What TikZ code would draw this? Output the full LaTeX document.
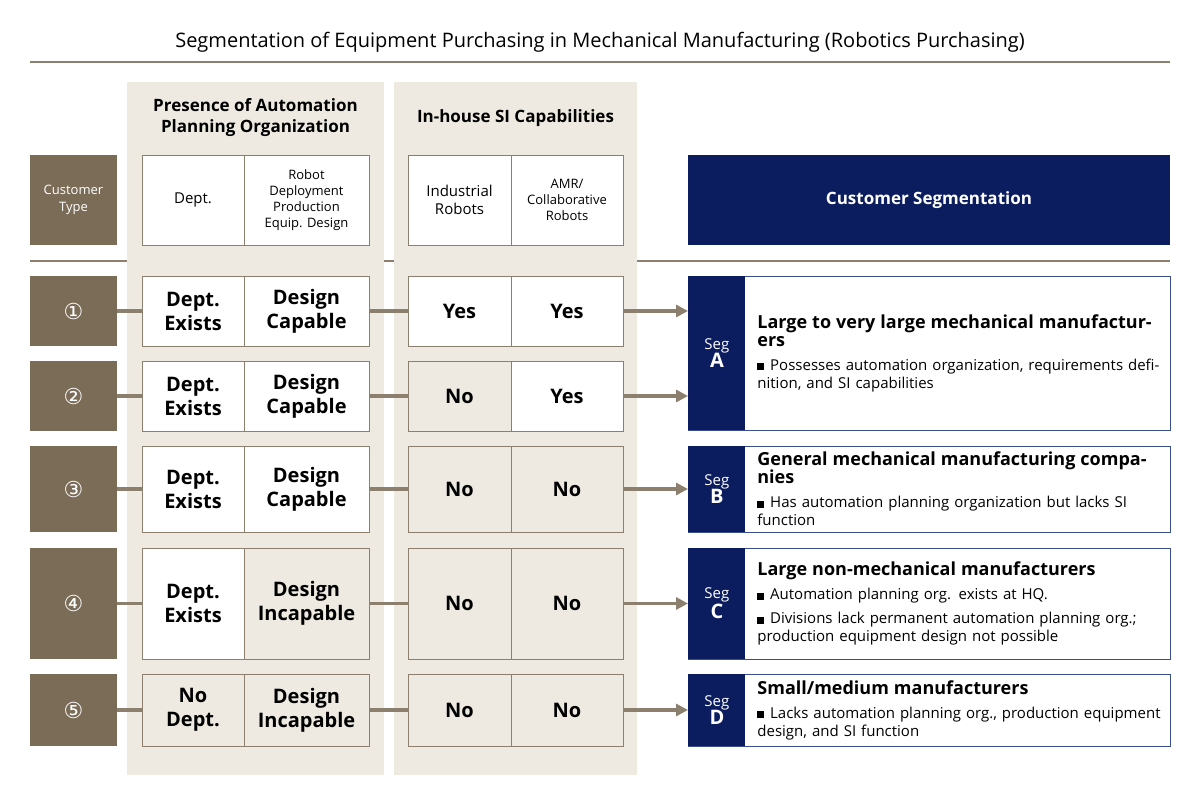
\documentclass[tikz,border=0pt]{standalone}
\usepackage{fontspec}
\setmainfont{Open Sans}
\newfontfamily\symfont{DejaVu Sans}
\usetikzlibrary{arrows.meta, positioning}
\definecolor{brownbox}{HTML}{7B6C58}
\definecolor{beige}{HTML}{EEEAE2}
\definecolor{navy}{HTML}{0B1D5E}
\definecolor{navyline}{HTML}{3A4E8E}
\definecolor{cellline}{HTML}{8C7F6E}
\newcommand\segitem[1]{\par\hangindent=6.5pt\hangafter=1\noindent\rule{3.4pt}{3.4pt}\hspace{3pt}#1}

\begin{document}
\begin{tikzpicture}[
  x=0.5pt, y=-0.5pt,
  font=\fontsize{7.5}{9}\selectfont,
  cell/.style={draw=cellline, fill=white, inner sep=1pt, align=center, minimum width=#1*0.5pt},
  typebox/.style={fill=brownbox, text=white, minimum width=87*0.5pt, align=center},
  segbox/.style={draw=navyline, fill=white, minimum width=482*0.5pt, anchor=west},
  segtag/.style={fill=navy, text=white, minimum width=57*0.5pt, anchor=west, align=center},
  segtext/.style={anchor=west, text width=205pt, align=left, inner sep=0pt},
  link/.style={draw=cellline, line width=1.6pt},
  arrow/.style={link, -{Triangle[length=6pt, width=6pt]}}
]
\useasboundingbox (0,0) rectangle (1200,806);
% title
\node (title) at (600,42) {\fontsize{10}{12}\selectfont Segmentation of Equipment Purchasing in Mechanical Manufacturing (Robotics Purchasing)};
\draw[cellline, line width=0.6pt] (30,62) -- (1170,62);
\draw[cellline, line width=0.6pt] (30,261) -- (1170,261);
% column backgrounds
\fill[beige] (127,82) rectangle (384,775);
\fill[beige] (394,82) rectangle (637,775);
\node[font=\fontsize{8.5}{10.5}\selectfont\bfseries, align=center] (hdrA) at (255.5,118) {Presence of Automation\\Planning Organization};
\node[font=\fontsize{8.5}{10.5}\selectfont\bfseries] (hdrB) at (515.5,118) {In-house SI Capabilities};
% header row
\node[typebox, minimum height=90*0.5pt, font=\fontsize{6.5}{8.5}\selectfont] (ct) at (73.5,200) {Customer\\Type};
\node[cell=102, minimum height=90*0.5pt] (hdept) at (193,200) {Dept.};
\node[cell=125, minimum height=90*0.5pt, font=\fontsize{6.5}{8}\selectfont] (hdes) at (306.5,200) {Robot\\Deployment\\Production\\Equip. Design};
\node[cell=103, minimum height=90*0.5pt] (hind) at (459.5,200) {Industrial\\Robots};
\node[cell=112, minimum height=90*0.5pt, font=\fontsize{6.5}{8}\selectfont] (hamr) at (567,200) {AMR/\\Collaborative\\Robots};
\node[fill=navy, text=white, minimum width=482*0.5pt, minimum height=90*0.5pt, font=\fontsize{8.5}{10}\selectfont\bfseries] (cseg) at (929,200) {Customer Segmentation};
% customer rows
\foreach \n/\c/\h/\fa/\fb/\fc/\fd/\ta/\tb/\tc/\td in {
  1/311/70/white/white/white/white/{Dept.\\Exists}/{Design\\Capable}/Yes/Yes,
  2/396/70/white/white/beige/white/{Dept.\\Exists}/{Design\\Capable}/No/Yes,
  3/489/86/white/white/beige/beige/{Dept.\\Exists}/{Design\\Capable}/No/No,
  4/603.5/111/white/beige/beige/beige/{Dept.\\Exists}/{Design\\Incapable}/No/No,
  5/710/72/beige/beige/beige/beige/{No\\Dept.}/{Design\\Incapable}/No/No}{
  \node[typebox, minimum height=\h*0.5pt, font=\symfont\fontsize{11}{12}\selectfont] (t\n) at (73.5,\c) {\ifcase\n\or ①\or ②\or ③\or ④\or ⑤\fi};
  \node[cell=102, fill=\fa, minimum height=\h*0.5pt, font=\bfseries] (dep\n) at (193,\c) {\ta};
  \node[cell=125, fill=\fb, minimum height=\h*0.5pt, font=\bfseries] (des\n) at (306.5,\c) {\tb};
  \node[cell=103, fill=\fc, minimum height=\h*0.5pt, font=\bfseries] (ind\n) at (459.5,\c) {\tc};
  \node[cell=112, fill=\fd, minimum height=\h*0.5pt, font=\bfseries] (amr\n) at (567,\c) {\td};
  \draw[link] (t\n) -- (dep\n);
  \draw[link] (des\n) -- (ind\n);
}
% segments
\node[segbox, minimum height=154*0.5pt] (segA) at (688,353) {};
\node[segtag, minimum height=154*0.5pt] (tagA) at (688,353) {Seg\\{\fontsize{10}{12}\selectfont\bfseries A}};
\node[segtext] (txtA) at (757,353) {{\fontsize{9}{11}\selectfont\bfseries Large to very large mechanical manufacturers}\par\vspace{3pt}
  \segitem{Possesses automation organization, requirements definition, and SI capabilities}};
\node[segbox, minimum height=86*0.5pt] (segB) at (688,489) {};
\node[segtag, minimum height=86*0.5pt] (tagB) at (688,489) {Seg\\{\fontsize{10}{12}\selectfont\bfseries B}};
\node[segtext] (txtB) at (757,489) {{\fontsize{9}{11}\selectfont\bfseries General mechanical manufacturing companies}\par\vspace{3pt}
  \segitem{Has automation planning organization but lacks SI function}};
\node[segbox, minimum height=111*0.5pt] (segC) at (688,603.5) {};
\node[segtag, minimum height=111*0.5pt] (tagC) at (688,603.5) {Seg\\{\fontsize{10}{12}\selectfont\bfseries C}};
\node[segtext] (txtC) at (757,603.5) {{\fontsize{9}{11}\selectfont\bfseries Large non-mechanical manufacturers}\par\vspace{3pt}
  \segitem{Automation planning org. exists at HQ.}\par\vspace{3pt}
  \segitem{Divisions lack permanent automation planning org.; production equipment design not possible}};
\node[segbox, minimum height=72*0.5pt] (segD) at (688,710) {};
\node[segtag, minimum height=72*0.5pt] (tagD) at (688,710) {Seg\\{\fontsize{10}{12}\selectfont\bfseries D}};
\node[segtext] (txtD) at (757,710) {{\fontsize{9}{11}\selectfont\bfseries Small/medium manufacturers}\par\vspace{3pt}
  \segitem{Lacks automation planning org., production equipment design, and SI function}};
% arrows
\draw[arrow] (amr1.east) -- (amr1.east -| segA.west);
\draw[arrow] (amr2.east) -- (amr2.east -| segA.west);
\draw[arrow] (amr3.east) -- (segB.west);
\draw[arrow] (amr4.east) -- (segC.west);
\draw[arrow] (amr5.east) -- (segD.west);
\end{tikzpicture}
\end{document}
